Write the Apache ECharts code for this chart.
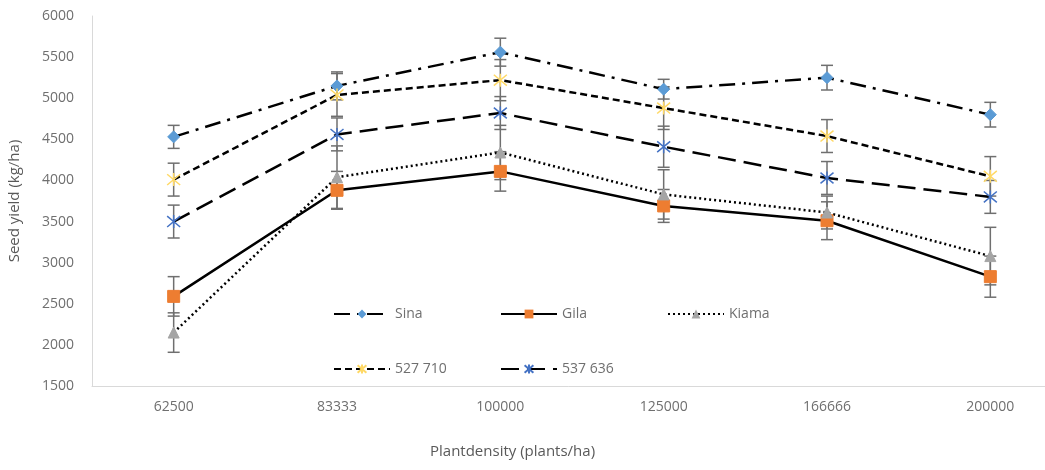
<!DOCTYPE html>
<html>
<head>
<meta charset="utf-8">
<script src="https://cdn.jsdelivr.net/npm/echarts@6/dist/echarts.min.js"></script>
<style>
  html, body { margin: 0; padding: 0; background: #ffffff; }
  #chart { width: 1045px; height: 470px; }
</style>
</head>
<body>
<div id="chart"></div>
<script>
// plant density categories
var categories = ['62500', '83333', '100000', '125000', '166666', '200000'];

// seed yield (kg/ha)
var sina    = [4530, 5150, 5560, 5110, 5250, 4800];
var gila    = [2590, 3880, 4110, 3690, 3510, 2830];
var kiama   = [2150, 4040, 4340, 3830, 3610, 3080];
var l527710 = [4010, 5040, 5220, 4880, 4540, 4050];
var l537636 = [3500, 4560, 4820, 4410, 4030, 3800];

// error bar half-widths
var sinaErr    = [140, 170, 170, 120, 150, 150];
var gilaErr    = [240, 230, 240, 200, 230, 250];
var kiamaErr   = [240, 380, 330, 300, 200, 350];
var l527710Err = [200, 260, 250, 260, 200, 240];
var l537636Err = [200, 200, 200, 250, 200, 200];

var yTicks = { min: 1500, max: 6000, interval: 500 };

var textColor = '#595959';

function errData(vals, errs) {
    return vals.map(function (v, i) { return [i, v - errs[i], v + errs[i]]; });
}

function errSeries(vals, errs) {
    return {
        type: 'custom',
        silent: true,
        z: 1,
        data: errData(vals, errs),
        renderItem: function (params, api) {
            var lo = api.coord([api.value(0), api.value(1)]);
            var hi = api.coord([api.value(0), api.value(2)]);
            var w = 6;
            var st = { stroke: '#6f6f6f', lineWidth: 1.5 };
            return {
                type: 'group',
                children: [
                    { type: 'line', shape: { x1: lo[0], y1: lo[1], x2: hi[0], y2: hi[1] }, style: st },
                    { type: 'line', shape: { x1: lo[0] - w, y1: lo[1], x2: lo[0] + w, y2: lo[1] }, style: st },
                    { type: 'line', shape: { x1: hi[0] - w, y1: hi[1], x2: hi[0] + w, y2: hi[1] }, style: st }
                ]
            };
        }
    };
}

var asterisk = 'path://M0,0L10,10M10,0L0,10M5,-1L5,11';

function lineSeries(name, vals, dash, symbol, size, color, stroke) {
    return {
        name: name,
        type: 'line',
        z: 3,
        data: vals,
        symbol: symbol,
        symbolSize: size,
        lineStyle: { color: '#000000', width: 2.5, type: dash },
        itemStyle: stroke
            ? { color: 'none', borderColor: color, borderWidth: 1.5 }
            : { color: color, borderColor: color },
        emphasis: { disabled: true }
    };
}

function legendAt(name, left, top) {
    return {
        data: [name],
        left: left,
        top: top,
        itemWidth: 56,
        itemHeight: 11,
        itemGap: 0,
        textStyle: { color: '#6f6f6f', fontSize: 14, fontFamily: 'Open Sans' },
        selectedMode: false
    };
}

var chart = echarts.init(document.getElementById('chart'));

chart.setOption({
    animation: false,
    backgroundColor: '#ffffff',
    grid: { left: 92, right: -27, top: 16, bottom: 84, outerBoundsMode: 'none', containLabel: false },
    legend: [
        legendAt('Sina', 328, 302),
        legendAt('Gila', 495, 302),
        legendAt('Kiama', 662, 302),
        legendAt('527 710', 328, 357),
        legendAt('537 636', 495, 357)
    ],
    xAxis: {
        type: 'category',
        data: categories,
        boundaryGap: true,
        axisLine: { lineStyle: { color: '#d9d9d9', width: 1 } },
        axisTick: { show: false },
        axisLabel: { color: '#6f6f6f', fontSize: 14, margin: 14, fontFamily: 'Open Sans' },
        splitLine: { show: false }
    },
    yAxis: {
        type: 'value',
        min: yTicks.min,
        max: yTicks.max,
        interval: yTicks.interval,
        name: 'Seed yield (kg/ha)',
        nameLocation: 'middle',
        nameGap: 70,
        nameRotate: 90,
        nameTextStyle: { color: textColor, fontSize: 15, fontFamily: 'Open Sans' },
        axisLine: { show: true, lineStyle: { color: '#d9d9d9', width: 1 } },
        axisTick: { show: false },
        axisLabel: {
            color: '#6f6f6f', fontSize: 14, margin: 18, fontFamily: 'Open Sans',
            formatter: function (v) { return String(v); }
        },
        splitLine: { show: false }
    },
    graphic: [{
        type: 'text',
        left: 430,
        top: 444,
        style: {
            text: 'Plantdensity (plants/ha)',
            fill: textColor,
            font: '15px "Open Sans"'
        }
    }],
    series: [
        errSeries(sina, sinaErr),
        errSeries(gila, gilaErr),
        errSeries(kiama, kiamaErr),
        errSeries(l527710, l527710Err),
        errSeries(l537636, l537636Err),
        lineSeries('Sina', sina, [16, 7, 3, 7], 'diamond', 12, '#5b9bd5'),
        lineSeries('Gila', gila, 'solid', 'rect', 12, '#ed7d31'),
        lineSeries('Kiama', kiama, [2, 3], 'triangle', 11, '#a5a5a5'),
        lineSeries('527 710', l527710, [7, 4], asterisk, 13, '#ffd966', true),
        lineSeries('537 636', l537636, [18, 8], asterisk, 13, '#4472c4', true)
    ]
});
</script>
</body>
</html>
